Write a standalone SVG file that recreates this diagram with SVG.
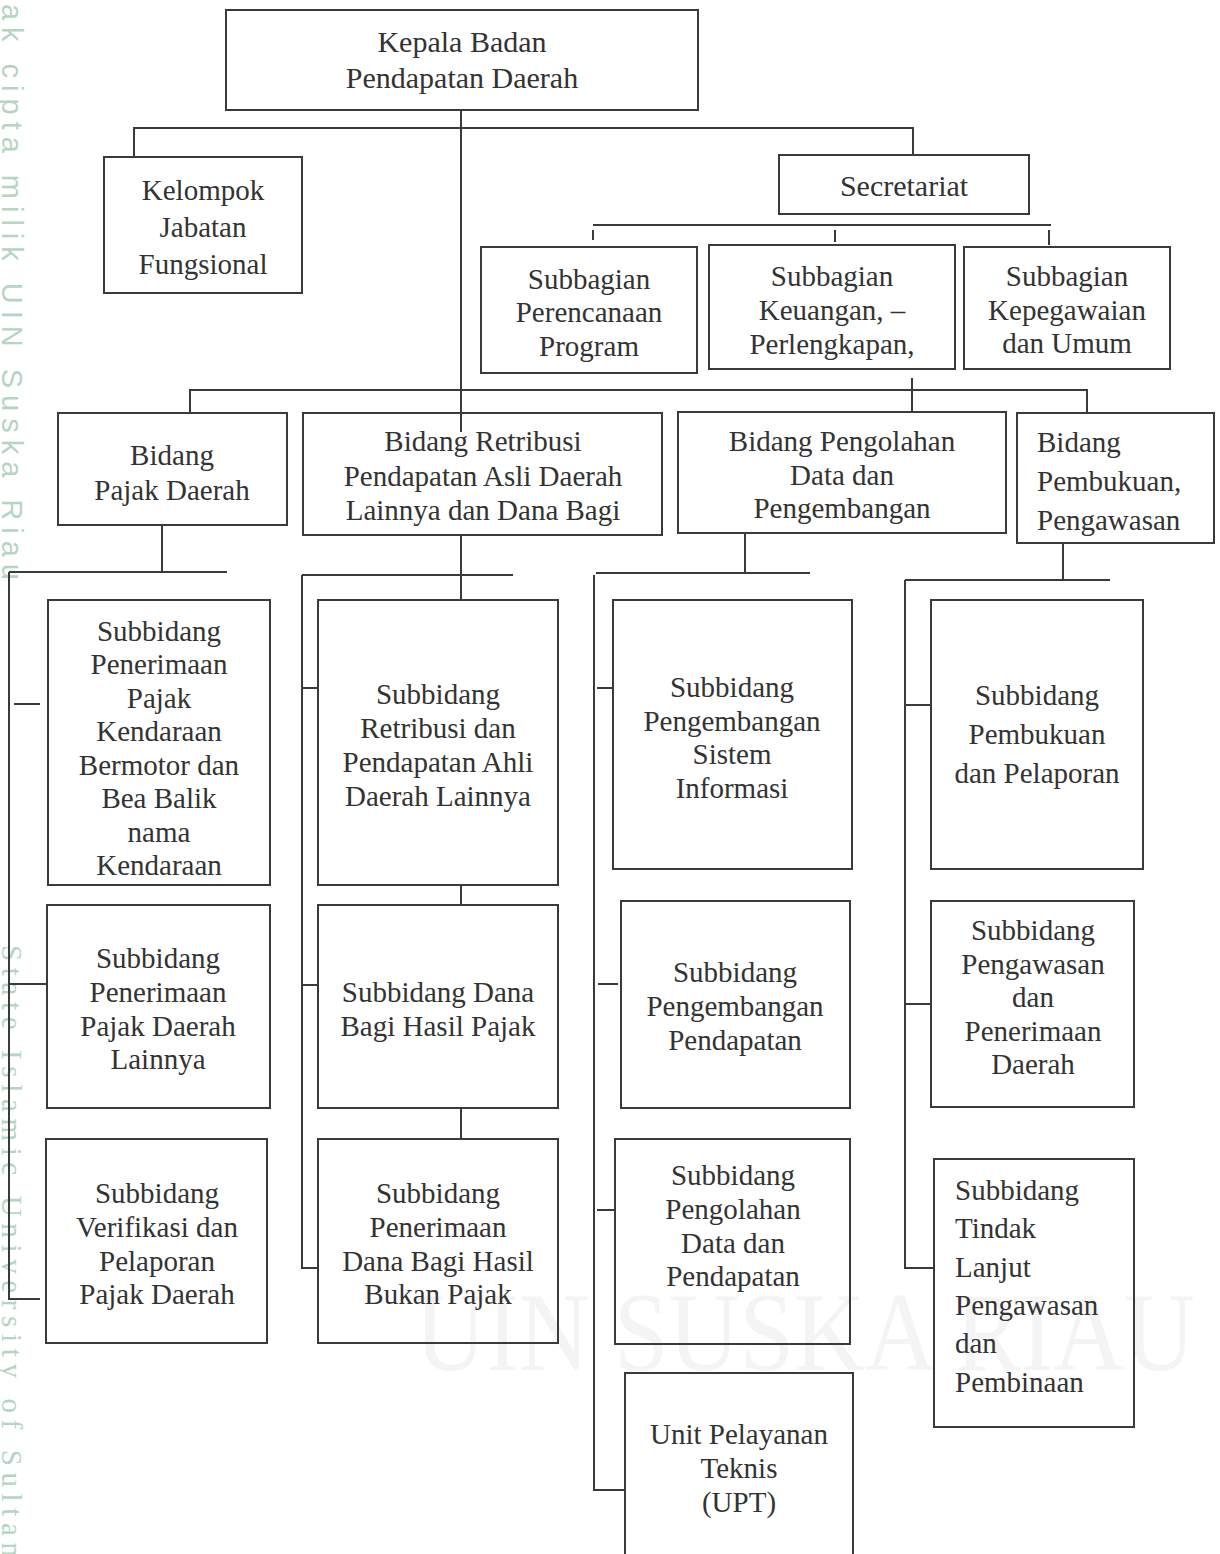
<svg xmlns="http://www.w3.org/2000/svg" width="1220" height="1554" viewBox="0 0 1220 1554">
<style>
.box{fill:none;stroke:#3a3a3a;stroke-width:2}
.ln{fill:none;stroke:#3a3a3a;stroke-width:2}
text{font-family:"Liberation Serif","Times New Roman",serif;font-size:29px;fill:#333}
.c{text-anchor:middle}
.wm{font-family:"Liberation Sans",Arial,sans-serif;font-size:29px;fill:#b4d5c4}
.wm2{font-family:"Liberation Serif",serif;font-size:29px;fill:#b4d5c4}
.big{font-family:"Liberation Serif",serif;font-size:112px;fill:#f4f4f4}
</style>
<rect width="1220" height="1554" fill="#fff"/>
<g id="watermark">
<text class="big" x="415" y="1370" textLength="780" lengthAdjust="spacingAndGlyphs">UIN SUSKA RIAU</text>
<text class="wm" transform="translate(2,-24) rotate(90)" textLength="604" lengthAdjust="spacing">Hak cipta milik UIN Suska Riau</text>
<text class="wm2" transform="translate(2,945) rotate(90)" textLength="612" lengthAdjust="spacing">State Islamic University of Sultan</text>
</g>
<g id="connectors">
<path class="ln" d="M461 110V432"/>
<path class="ln" d="M134 157V128H913V155"/>
<path class="ln" d="M593 225H1051M593 230V240M835 230V242M1049 230V245"/>
<path class="ln" d="M190 413V390H1087V413M912 378V412"/>
<path class="ln" d="M162 525V572M9 572H227M9 572V1299H40M14 704H40M9 984H48"/>
<path class="ln" d="M461 535V600M302 575H513M302 575V1268H318M302 688H318M302 985H318M461 885V905M461 1108V1139"/>
<path class="ln" d="M745 533V573M596 573H810M594 575V1490H625M597 688H612M598 984H618M597 1210H615"/>
<path class="ln" d="M1063 543V580M905 580H1110M905 580V1268H934M905 705H931M905 1004H931"/>
</g>
<g id="kepala"><rect class="box" x="226" y="10" width="472" height="100"/>
<text class="c" x="462" y="52" style="font-size:30px">Kepala Badan</text>
<text class="c" x="462" y="88" style="font-size:30px">Pendapatan Daerah</text></g>
<g id="kelompok"><rect class="box" x="104" y="157" width="198" height="136"/>
<text class="c" x="203" y="200">Kelompok</text><text class="c" x="203" y="237">Jabatan</text><text class="c" x="203" y="274">Fungsional</text></g>
<g id="secretariat"><rect class="box" x="779" y="155" width="250" height="59"/>
<text class="c" x="904" y="196" style="font-size:30px">Secretariat</text></g>
<g id="sb-perencanaan"><rect class="box" x="481" y="247" width="216" height="126"/>
<text class="c" x="589" y="289">Subbagian</text><text class="c" x="589" y="322">Perencanaan</text><text class="c" x="589" y="356">Program</text></g>
<g id="sb-keuangan"><rect class="box" x="709" y="245" width="246" height="124"/>
<text class="c" x="832" y="286">Subbagian</text><text class="c" x="832" y="320">Keuangan, –</text><text class="c" x="832" y="354">Perlengkapan,</text></g>
<g id="sb-kepegawaian"><rect class="box" x="964" y="247" width="206" height="122"/>
<text class="c" x="1067" y="286">Subbagian</text><text class="c" x="1067" y="320">Kepegawaian</text><text class="c" x="1067" y="353">dan Umum</text></g>
<g id="bidang-pajak"><rect class="box" x="58" y="413" width="229" height="112"/>
<text class="c" x="172" y="465">Bidang</text><text class="c" x="172" y="500">Pajak Daerah</text></g>
<g id="bidang-retribusi"><rect class="box" x="303" y="413" width="359" height="122"/>
<text class="c" x="483" y="451">Bidang Retribusi</text><text class="c" x="483" y="486">Pendapatan Asli Daerah</text><text class="c" x="483" y="520">Lainnya dan Dana Bagi</text></g>
<g id="bidang-pengolahan"><rect class="box" x="678" y="412" width="328" height="121"/>
<text class="c" x="842" y="451">Bidang Pengolahan</text><text class="c" x="842" y="485">Data dan</text><text class="c" x="842" y="518">Pengembangan</text></g>
<g id="bidang-pembukuan"><rect class="box" x="1017" y="413" width="197" height="130"/>
<text x="1037" y="452">Bidang</text><text x="1037" y="491">Pembukuan,</text><text x="1037" y="530">Pengawasan</text></g>
<g id="sub-pkb"><rect class="box" x="48" y="600" width="222" height="285"/>
<text class="c" x="159" y="641">Subbidang</text><text class="c" x="159" y="674">Penerimaan</text><text class="c" x="159" y="708">Pajak</text><text class="c" x="159" y="741">Kendaraan</text><text class="c" x="159" y="775">Bermotor dan</text><text class="c" x="159" y="808">Bea Balik</text><text class="c" x="159" y="842">nama</text><text class="c" x="159" y="875">Kendaraan</text></g>
<g id="sub-pdl"><rect class="box" x="47" y="905" width="223" height="203"/>
<text class="c" x="158" y="968">Subbidang</text><text class="c" x="158" y="1002">Penerimaan</text><text class="c" x="158" y="1036">Pajak Daerah</text><text class="c" x="158" y="1069">Lainnya</text></g>
<g id="sub-verifikasi"><rect class="box" x="46" y="1139" width="221" height="204"/>
<text class="c" x="157" y="1203">Subbidang</text><text class="c" x="157" y="1237">Verifikasi dan</text><text class="c" x="157" y="1271">Pelaporan</text><text class="c" x="157" y="1304">Pajak Daerah</text></g>
<g id="sub-retribusi"><rect class="box" x="318" y="600" width="240" height="285"/>
<text class="c" x="438" y="704">Subbidang</text><text class="c" x="438" y="738">Retribusi dan</text><text class="c" x="438" y="772">Pendapatan Ahli</text><text class="c" x="438" y="806">Daerah Lainnya</text></g>
<g id="sub-dbh-pajak"><rect class="box" x="318" y="905" width="240" height="203"/>
<text class="c" x="438" y="1002">Subbidang Dana</text><text class="c" x="438" y="1036">Bagi Hasil Pajak</text></g>
<g id="sub-dbh-bukan"><rect class="box" x="318" y="1139" width="240" height="204"/>
<text class="c" x="438" y="1203">Subbidang</text><text class="c" x="438" y="1237">Penerimaan</text><text class="c" x="438" y="1271">Dana Bagi Hasil</text><text class="c" x="438" y="1304">Bukan Pajak</text></g>
<g id="sub-sistem"><rect class="box" x="613" y="600" width="239" height="269"/>
<text class="c" x="732" y="697">Subbidang</text><text class="c" x="732" y="731">Pengembangan</text><text class="c" x="732" y="764">Sistem</text><text class="c" x="732" y="798">Informasi</text></g>
<g id="sub-pengembangan"><rect class="box" x="621" y="901" width="229" height="207"/>
<text class="c" x="735" y="982">Subbidang</text><text class="c" x="735" y="1016">Pengembangan</text><text class="c" x="735" y="1050">Pendapatan</text></g>
<g id="sub-pengolahan"><rect class="box" x="615" y="1139" width="235" height="205"/>
<text class="c" x="733" y="1185">Subbidang</text><text class="c" x="733" y="1219">Pengolahan</text><text class="c" x="733" y="1253">Data dan</text><text class="c" x="733" y="1286">Pendapatan</text></g>
<g id="upt"><rect class="box" x="625" y="1373" width="228" height="190"/>
<text class="c" x="739" y="1444">Unit Pelayanan</text><text class="c" x="739" y="1478">Teknis</text><text class="c" x="739" y="1512">(UPT)</text></g>
<g id="sub-pembukuan"><rect class="box" x="931" y="600" width="212" height="269"/>
<text class="c" x="1037" y="705">Subbidang</text><text class="c" x="1037" y="744">Pembukuan</text><text class="c" x="1037" y="783">dan Pelaporan</text></g>
<g id="sub-pengawasan"><rect class="box" x="931" y="901" width="203" height="206"/>
<text class="c" x="1033" y="940">Subbidang</text><text class="c" x="1033" y="974">Pengawasan</text><text class="c" x="1033" y="1007">dan</text><text class="c" x="1033" y="1041">Penerimaan</text><text class="c" x="1033" y="1074">Daerah</text></g>
<g id="sub-tindak-lanjut"><rect class="box" x="934" y="1159" width="200" height="268"/>
<text x="955" y="1200">Subbidang</text><text x="955" y="1238">Tindak</text><text x="955" y="1277">Lanjut</text><text x="955" y="1315">Pengawasan</text><text x="955" y="1353">dan</text><text x="955" y="1392">Pembinaan</text></g>
</svg>
